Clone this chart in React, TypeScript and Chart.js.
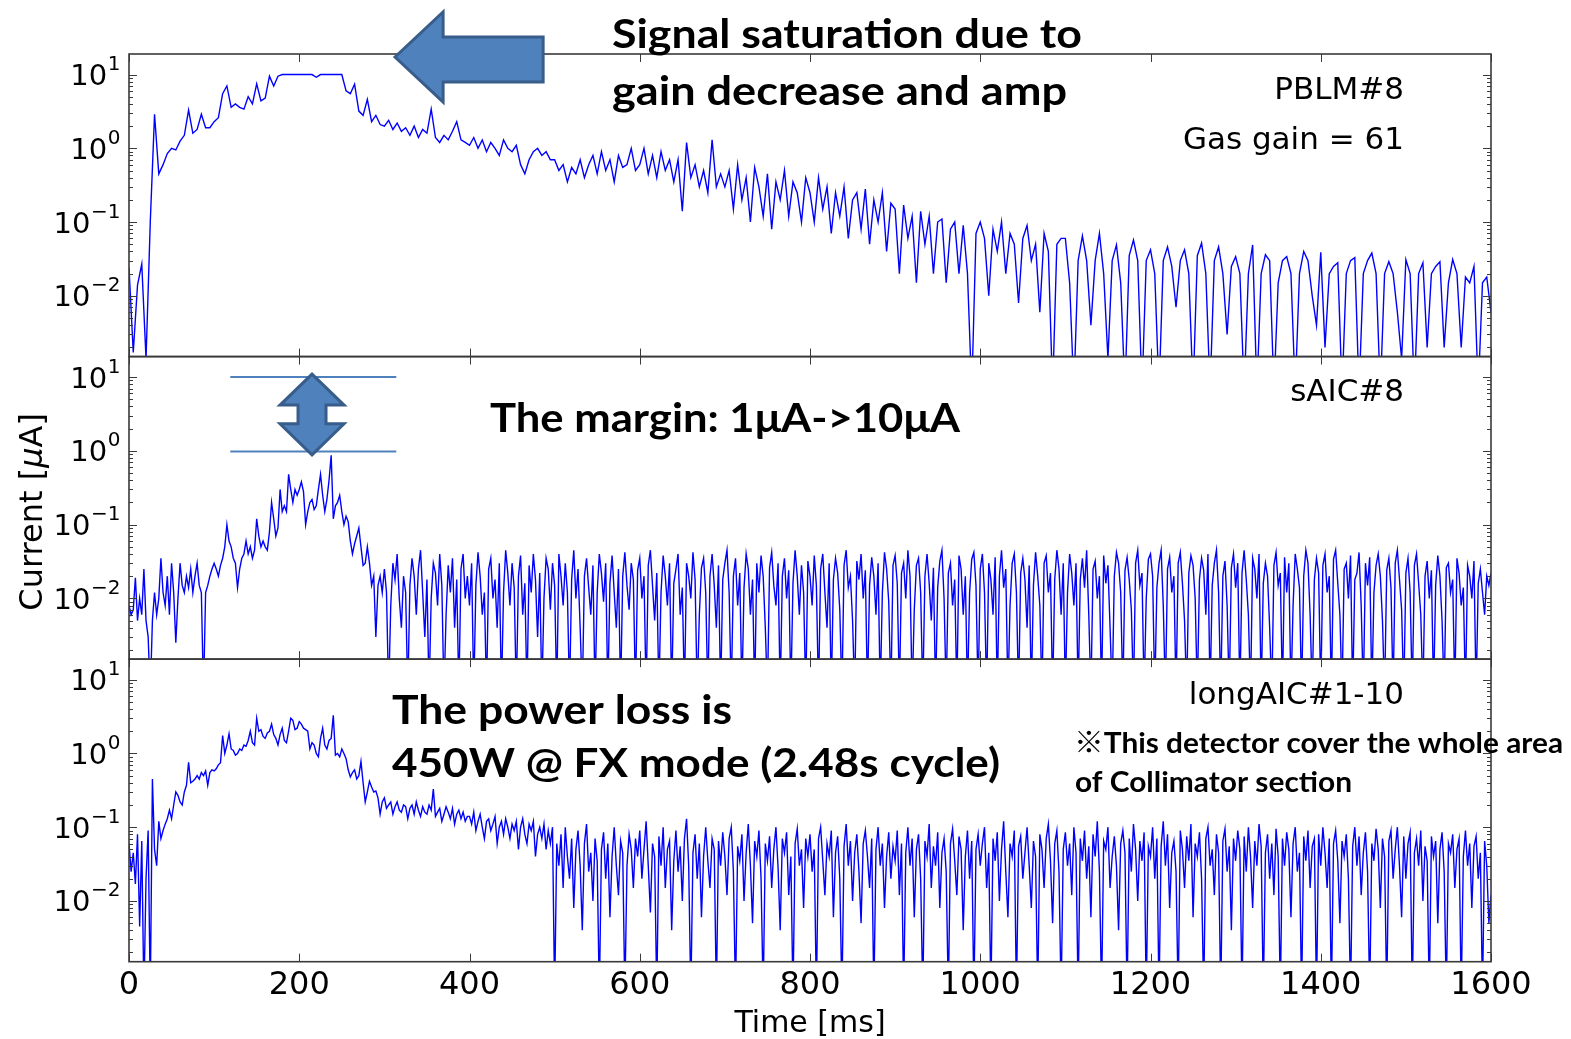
import { useEffect, useRef } from 'react';
import { Chart, registerables } from 'chart.js';

Chart.register(...registerables);

// ---------------- DATA (µA) ----------------
const PBLM_STEP_MS = 5;
const AIC_STEP_MS = 2.5;

// PBLM#8 (gas gain = 61), one value every 5 ms from 0 to 1600 ms
const PBLM8 = [
  0.024, 0.0017, 0.014, 0.027, 0.0014, 0.1, 2.9, 0.45, 0.6, 0.85, 1.0, 0.95, 1.25, 1.5, 3.3, 1.6, 1.8, 2.9, 1.9, 1.9,
  2.3, 2.6, 5.5, 7.0, 3.6, 4.0, 3.6, 3.4, 5.0, 4.0, 7.5, 4.4, 4.8, 9.5, 7.0, 9.5, 10, 10, 10, 10,
  10, 10, 10, 10, 9.2, 10, 10, 10, 10, 10, 10, 6.0, 5.5, 7.4, 3.2, 2.8, 4.6, 2.3, 2.8, 2.1,
  2.0, 2.4, 1.8, 2.2, 1.7, 1.9, 1.5, 2.0, 1.4, 1.8, 1.6, 3.4, 1.4, 1.2, 1.5, 1.3, 1.7, 2.3, 1.3, 1.2,
  1.1, 1.4, 1.0, 1.3, 0.9, 1.2, 1.0, 0.8, 1.3, 1.0, 0.9, 1.1, 0.6, 0.45, 0.7, 0.9, 1.0, 0.8, 0.9, 0.7,
  0.7, 0.5, 0.6, 0.35, 0.55, 0.45, 0.7, 0.4, 0.6, 0.8, 0.45, 0.9, 0.5, 0.7, 0.35, 0.8, 0.55, 0.6, 1.0, 0.5,
  0.6, 1.0, 0.45, 0.8, 0.4, 0.9, 0.5, 0.7, 0.35, 0.7, 0.14, 1.2, 0.4, 0.6, 0.3, 0.5, 0.25, 1.3, 0.3, 0.45,
  0.3, 0.5, 0.15, 0.6, 0.2, 0.4, 0.1, 0.55, 0.3, 0.12, 0.45, 0.08, 0.35, 0.2, 0.5, 0.12, 0.35, 0.25, 0.1, 0.4,
  0.25, 0.1, 0.4, 0.15, 0.3, 0.07, 0.25, 0.12, 0.3, 0.06, 0.2, 0.25, 0.08, 0.28, 0.05, 0.2, 0.1, 0.25, 0.04, 0.18,
  0.15, 0.02, 0.17, 0.06, 0.12, 0.015, 0.14, 0.05, 0.12, 0.02, 0.1, 0.11, 0.015, 0.08, 0.1, 0.02, 0.09, 0.02, 0.0005, 0.07,
  0.1, 0.06, 0.01, 0.08, 0.04, 0.1, 0.02, 0.07, 0.05, 0.008, 0.06, 0.09, 0.03, 0.05, 0.006, 0.07, 0.04, 0.0005, 0.05, 0.06,
  0.06, 0.015, 0.0005, 0.03, 0.065, 0.03, 0.004, 0.03, 0.07, 0.02, 0.0014, 0.03, 0.049, 0.015, 0.0005, 0.035, 0.057, 0.03, 0.0005, 0.03,
  0.042, 0.02, 0.0005, 0.03, 0.046, 0.025, 0.007, 0.03, 0.042, 0.02, 0.0005, 0.035, 0.052, 0.02, 0.0005, 0.03, 0.046, 0.02, 0.003, 0.025,
  0.034, 0.02, 0.0005, 0.02, 0.049, 0.0005, 0.02, 0.036, 0.03, 0.0005, 0.015, 0.03, 0.034, 0.02, 0.0005, 0.02, 0.04, 0.03, 0.01, 0.004,
  0.039, 0.002, 0.02, 0.025, 0.028, 0.0005, 0.02, 0.03, 0.033, 0.0005, 0.02, 0.03, 0.038, 0.02, 0.0005, 0.02, 0.029, 0.02, 0.006, 0.0014,
  0.031, 0.02, 0.0005, 0.02, 0.028, 0.002, 0.02, 0.025, 0.029, 0.002, 0.015, 0.031, 0.02, 0.002, 0.018, 0.015, 0.025, 0.0005, 0.015, 0.018, 0.006,
];

// sAIC#8, one value every 2.5 ms
const SAIC8 = [
  0.008, 0.006, 0.007, 0.019, 0.005, 0.01, 0.006, 0.025, 0.005, 0.003, 0.0005, 0.005, 0.012, 0.006, 0.01, 0.035, 0.012, 0.008, 0.02, 0.006,
  0.03, 0.012, 0.0025, 0.01, 0.03, 0.015, 0.012, 0.02, 0.014, 0.025, 0.012, 0.02, 0.03, 0.015, 0.012, 0.0005, 0.012, 0.015, 0.02, 0.025,
  0.03, 0.025, 0.02, 0.028, 0.035, 0.05, 0.1, 0.06, 0.05, 0.035, 0.03, 0.014, 0.025, 0.035, 0.04, 0.06, 0.04, 0.05, 0.035, 0.045,
  0.12, 0.07, 0.05, 0.06, 0.05, 0.045, 0.08, 0.2, 0.12, 0.07, 0.09, 0.3, 0.15, 0.18, 0.15, 0.48, 0.3, 0.2, 0.3, 0.25,
  0.3, 0.38, 0.28, 0.1, 0.15, 0.2, 0.22, 0.16, 0.18, 0.3, 0.48, 0.25, 0.15, 0.22, 0.4, 0.87, 0.12, 0.18, 0.2, 0.25,
  0.15, 0.1, 0.13, 0.11, 0.06, 0.04, 0.055, 0.07, 0.09, 0.05, 0.028, 0.03, 0.05, 0.03, 0.015, 0.02, 0.003, 0.015, 0.02, 0.012,
  0.025, 0.012, 0.0005, 0.008, 0.03, 0.018, 0.04, 0.01, 0.004, 0.02, 0.012, 0.0005, 0.015, 0.035, 0.02, 0.006, 0.025, 0.045, 0.012, 0.003,
  0.018, 0.0005, 0.01, 0.03, 0.022, 0.008, 0.04, 0.015, 0.0005, 0.006, 0.028, 0.012, 0.035, 0.004, 0.018, 0.0005, 0.025, 0.04, 0.01, 0.02,
  0.008, 0.03, 0.0005, 0.015, 0.042, 0.02, 0.006, 0.012, 0.0005, 0.025, 0.035, 0.01, 0.018, 0.004, 0.03, 0.0005, 0.012, 0.045, 0.022, 0.008,
  0.03, 0.014, 0.0005, 0.02, 0.038, 0.006, 0.016, 0.0005, 0.028, 0.012, 0.04, 0.018, 0.003, 0.022, 0.0005, 0.01, 0.035, 0.025, 0.007, 0.03,
  0.015, 0.0005, 0.04, 0.02, 0.008, 0.03, 0.012, 0.0005, 0.018, 0.045, 0.01, 0.025, 0.004, 0.0005, 0.02, 0.035, 0.014, 0.006, 0.028, 0.0005,
  0.012, 0.04, 0.022, 0.009, 0.03, 0.0005, 0.016, 0.038, 0.012, 0.004, 0.025, 0.0005, 0.02, 0.042, 0.015, 0.007, 0.03, 0.018, 0.0005, 0.024,
  0.035, 0.01, 0.02, 0.0005, 0.028, 0.045, 0.015, 0.005, 0.022, 0.0005, 0.012, 0.038, 0.02, 0.008, 0.03, 0.0005, 0.016, 0.025, 0.04, 0.006,
  0.014, 0.0005, 0.03, 0.02, 0.01, 0.042, 0.018, 0.0005, 0.006, 0.026, 0.035, 0.012, 0.0005, 0.02, 0.04, 0.015, 0.004, 0.028, 0.0005, 0.018,
  0.03, 0.045, 0.012, 0.0005, 0.02, 0.035, 0.008, 0.022, 0.0005, 0.014, 0.04, 0.025, 0.006, 0.018, 0.0005, 0.03, 0.012, 0.038, 0.02, 0.004,
  0.0005, 0.026, 0.042, 0.015, 0.008, 0.03, 0.0005, 0.02, 0.035, 0.01, 0.024, 0.0005, 0.016, 0.045, 0.02, 0.006, 0.028, 0.012, 0.0005, 0.032,
  0.02, 0.008, 0.038, 0.015, 0.0005, 0.025, 0.04, 0.012, 0.004, 0.03, 0.0005, 0.018, 0.035, 0.022, 0.007, 0.0005, 0.028, 0.045, 0.014, 0.02,
  0.005, 0.0005, 0.032, 0.018, 0.04, 0.01, 0.024, 0.0005, 0.015, 0.036, 0.02, 0.006, 0.03, 0.0005, 0.012, 0.042, 0.025, 0.009, 0.0005, 0.028,
  0.038, 0.016, 0.0005, 0.022, 0.03, 0.01, 0.045, 0.02, 0.0005, 0.007, 0.028, 0.035, 0.012, 0.0005, 0.02, 0.04, 0.016, 0.005, 0.026, 0.0005,
  0.014, 0.032, 0.045, 0.01, 0.0005, 0.022, 0.03, 0.008, 0.018, 0.0005, 0.038, 0.025, 0.006, 0.02, 0.0005, 0.012, 0.034, 0.042, 0.015, 0.0005,
  0.025, 0.04, 0.012, 0.0005, 0.03, 0.018, 0.006, 0.036, 0.0005, 0.02, 0.045, 0.014, 0.025, 0.0005, 0.008, 0.03, 0.04, 0.012, 0.0005, 0.022,
  0.035, 0.018, 0.004, 0.028, 0.0005, 0.015, 0.042, 0.02, 0.008, 0.0005, 0.03, 0.038, 0.012, 0.022, 0.0005, 0.018, 0.045, 0.025, 0.006, 0.03,
  0.0005, 0.012, 0.04, 0.022, 0.008, 0.03, 0.0005, 0.018, 0.035, 0.014, 0.045, 0.006, 0.0005, 0.025, 0.032, 0.01, 0.02, 0.0005, 0.038, 0.016,
  0.028, 0.004, 0.0005, 0.02, 0.042, 0.03, 0.012, 0.0005, 0.024, 0.036, 0.018, 0.007, 0.0005, 0.03, 0.045, 0.015, 0.022, 0.0005, 0.01, 0.034,
  0.04, 0.02, 0.0005, 0.014, 0.03, 0.045, 0.008, 0.0005, 0.025, 0.036, 0.012, 0.02, 0.0005, 0.03, 0.042, 0.016, 0.005, 0.0005, 0.022, 0.038,
  0.028, 0.01, 0.0005, 0.018, 0.035, 0.024, 0.006, 0.04, 0.0005, 0.015, 0.03, 0.045, 0.012, 0.0005, 0.02, 0.032, 0.008, 0.0005, 0.026, 0.04,
  0.014, 0.03, 0.0005, 0.022, 0.045, 0.018, 0.006, 0.0005, 0.035, 0.025, 0.01, 0.04, 0.0005, 0.016, 0.03, 0.02, 0.004, 0.0005, 0.028, 0.042,
  0.015, 0.022, 0.0005, 0.036, 0.012, 0.03, 0.0005, 0.008, 0.04, 0.025, 0.014, 0.0005, 0.02, 0.045, 0.03, 0.006, 0.0005, 0.018, 0.035, 0.022,
  0.0005, 0.028, 0.04, 0.012, 0.02, 0.0005, 0.034, 0.045, 0.016, 0.006, 0.0005, 0.025, 0.03, 0.01, 0.038, 0.0005, 0.018, 0.022, 0.042, 0.008,
  0.0005, 0.03, 0.015, 0.036, 0.0005, 0.012, 0.028, 0.04, 0.02, 0.005, 0.0005, 0.024, 0.035, 0.014, 0.0005, 0.03, 0.045, 0.018, 0.007, 0.0005,
  0.022, 0.035, 0.012, 0.0005, 0.028, 0.04, 0.016, 0.006, 0.0005, 0.02, 0.032, 0.01, 0.024, 0.0005, 0.015, 0.038, 0.02, 0.005, 0.0005, 0.026,
  0.03, 0.012, 0.018, 0.0005, 0.035, 0.022, 0.008, 0.014, 0.0005, 0.028, 0.02, 0.01, 0.032, 0.0005, 0.016, 0.025, 0.012, 0.006, 0.02, 0.015, 0.022,
];

// longAIC#1-10, one value every 2.5 ms
const LONGAIC = [
  0.06, 0.025, 0.045, 0.017, 0.08, 0.0045, 0.065, 0.0005, 0.02, 0.09, 0.0005, 0.45, 0.05, 0.03, 0.12, 0.07, 0.09, 0.11, 0.13, 0.17,
  0.13, 0.2, 0.3, 0.27, 0.22, 0.2, 0.3, 0.37, 0.76, 0.4, 0.42, 0.45, 0.5, 0.45, 0.55, 0.5, 0.58, 0.37, 0.55, 0.6,
  0.58, 0.62, 0.7, 0.75, 1.75, 1.0, 1.3, 1.85, 1.15, 1.1, 0.95, 1.0, 1.15, 1.1, 1.3, 1.25, 1.5, 2.0, 1.4, 1.3,
  3.0, 2.0, 2.1, 1.7, 1.6, 1.9, 2.0, 2.5, 1.8, 1.6, 1.3, 1.8, 2.2, 1.5, 1.4, 2.0, 3.0, 2.8, 2.1, 2.2,
  2.7, 2.5, 2.2, 2.1, 2.0, 1.15, 1.4, 1.3, 1.0, 0.9, 1.6, 2.2, 1.3, 1.15, 1.5, 1.6, 3.3, 0.95, 1.0, 0.9,
  1.15, 1.0, 0.85, 0.6, 0.48, 0.55, 0.6, 0.45, 0.5, 0.78, 0.4, 0.22, 0.3, 0.42, 0.35, 0.3, 0.31, 0.25, 0.15, 0.22,
  0.25, 0.18, 0.2, 0.22, 0.15, 0.19, 0.22, 0.17, 0.16, 0.2, 0.19, 0.13, 0.18, 0.2, 0.15, 0.22, 0.17, 0.14, 0.19, 0.16,
  0.15, 0.2, 0.17, 0.33, 0.14, 0.16, 0.18, 0.12, 0.15, 0.19, 0.16, 0.13, 0.18, 0.11, 0.15, 0.17, 0.13, 0.16, 0.12, 0.14,
  0.14, 0.11, 0.16, 0.09, 0.12, 0.15, 0.1, 0.07, 0.12, 0.13, 0.09, 0.11, 0.14, 0.06, 0.1, 0.12, 0.08, 0.13, 0.1, 0.07,
  0.11, 0.09, 0.12, 0.05, 0.1, 0.13, 0.08, 0.06, 0.11, 0.09, 0.12, 0.04, 0.08, 0.1, 0.07, 0.11, 0.05, 0.09, 0.06, 0.1,
  0.0005, 0.06, 0.03, 0.08, 0.015, 0.1, 0.04, 0.02, 0.07, 0.008, 0.05, 0.09, 0.03, 0.004, 0.06, 0.11, 0.025, 0.045, 0.01, 0.07,
  0.035, 0.0005, 0.05, 0.085, 0.02, 0.06, 0.006, 0.04, 0.1, 0.03, 0.012, 0.065, 0.045, 0.0005, 0.03, 0.08, 0.05, 0.015, 0.07, 0.04,
  0.09, 0.02, 0.05, 0.12, 0.03, 0.007, 0.06, 0.04, 0.0005, 0.075, 0.03, 0.1, 0.015, 0.05, 0.065, 0.004, 0.035, 0.09, 0.025, 0.055,
  0.01, 0.07, 0.13, 0.03, 0.0005, 0.045, 0.08, 0.02, 0.06, 0.006, 0.04, 0.1, 0.035, 0.015, 0.07, 0.05, 0.0005, 0.065, 0.03, 0.085,
  0.04, 0.012, 0.07, 0.1, 0.025, 0.0005, 0.055, 0.035, 0.08, 0.01, 0.045, 0.11, 0.03, 0.005, 0.065, 0.04, 0.09, 0.02, 0.0005, 0.06,
  0.035, 0.075, 0.015, 0.05, 0.1, 0.028, 0.004, 0.07, 0.045, 0.085, 0.012, 0.04, 0.0005, 0.06, 0.095, 0.03, 0.05, 0.008, 0.07, 0.04,
  0.08, 0.025, 0.05, 0.0005, 0.07, 0.1, 0.035, 0.012, 0.06, 0.04, 0.09, 0.006, 0.045, 0.075, 0.02, 0.0005, 0.055, 0.11, 0.03, 0.065,
  0.01, 0.045, 0.08, 0.025, 0.005, 0.06, 0.09, 0.04, 0.015, 0.07, 0.0005, 0.05, 0.1, 0.03, 0.06, 0.008, 0.04, 0.085, 0.02, 0.055,
  0.035, 0.09, 0.012, 0.06, 0.0005, 0.045, 0.1, 0.03, 0.07, 0.006, 0.05, 0.08, 0.02, 0.0005, 0.065, 0.04, 0.11, 0.015, 0.055, 0.03,
  0.085, 0.008, 0.045, 0.07, 0.025, 0.0005, 0.06, 0.095, 0.035, 0.012, 0.075, 0.05, 0.004, 0.04, 0.09, 0.02, 0.065, 0.0005, 0.05, 0.08,
  0.03, 0.06, 0.1, 0.015, 0.045, 0.0005, 0.07, 0.035, 0.085, 0.01, 0.05, 0.12, 0.025, 0.006, 0.06, 0.04, 0.09, 0.0005, 0.055, 0.075,
  0.02, 0.045, 0.1, 0.03, 0.008, 0.065, 0.04, 0.0005, 0.08, 0.05, 0.015, 0.07, 0.11, 0.035, 0.005, 0.06, 0.09, 0.025, 0.0005, 0.05,
  0.085, 0.03, 0.06, 0.012, 0.1, 0.045, 0.0005, 0.07, 0.035, 0.09, 0.02, 0.055, 0.006, 0.08, 0.04, 0.12, 0.025, 0.0005, 0.065, 0.05,
  0.1, 0.015, 0.04, 0.075, 0.03, 0.004, 0.06, 0.09, 0.045, 0.0005, 0.07, 0.025, 0.11, 0.05, 0.01, 0.065, 0.035, 0.085, 0.0005, 0.055,
  0.04, 0.1, 0.02, 0.07, 0.0005, 0.055, 0.12, 0.03, 0.08, 0.008, 0.045, 0.065, 0.025, 0.0005, 0.09, 0.05, 0.015, 0.075, 0.035, 0.11,
  0.006, 0.06, 0.04, 0.085, 0.02, 0.0005, 0.07, 0.1, 0.03, 0.05, 0.012, 0.08, 0.045, 0.0005, 0.065, 0.095, 0.025, 0.055, 0.004, 0.07,
  0.035, 0.09, 0.05, 0.0005, 0.075, 0.025, 0.1, 0.04, 0.008, 0.065, 0.03, 0.11, 0.055, 0.0005, 0.045, 0.08, 0.02, 0.06, 0.012, 0.095,
  0.04, 0.0005, 0.07, 0.03, 0.085, 0.05, 0.006, 0.06, 0.1, 0.025, 0.045, 0.0005, 0.075, 0.035, 0.09, 0.015, 0.055, 0.07, 0.0005, 0.08,
  0.03, 0.1, 0.045, 0.015, 0.07, 0.0005, 0.06, 0.09, 0.035, 0.005, 0.065, 0.04, 0.08, 0.02, 0.0005, 0.055, 0.1, 0.03, 0.075, 0.012,
  0.045, 0.085, 0.025, 0.0005, 0.06, 0.035, 0.095, 0.05, 0.008, 0.07, 0.04, 0.0005, 0.065, 0.09, 0.02, 0.05, 0.1, 0.03, 0.006, 0.075,
  0.02, 0.06, 0.085, 0.0005, 0.045, 0.07, 0.03, 0.09, 0.01, 0.055, 0.035, 0.0005, 0.075, 0.04, 0.065, 0.005, 0.05, 0.085, 0.025, 0.0005,
  0.06, 0.045, 0.08, 0.015, 0.05, 0.07, 0.0005, 0.04, 0.09, 0.03, 0.06, 0.008, 0.055, 0.075, 0.02, 0.045, 0.0005, 0.065, 0.03, 0.005, 0.012,
];

// sampling grids of the x axis (ms)
const PBLM_TIME_MS = PBLM8.map((_, i) => i * PBLM_STEP_MS);
const AIC_TIME_MS = SAIC8.map((_, i) => i * AIC_STEP_MS);

const X_TICKS = [0, 200, 400, 600, 800, 1000, 1200, 1400, 1600];
const X_TICK_LABELS = ['0', '200', '400', '600', '800', '1000', '1200', '1400', '1600'];
const Y_TICKS = [10, 1, 0.1, 0.01];
const Y_TICK_EXPONENTS = ['1', '0', '\u22121', '\u22122'];
const PANEL_LABELS = [['PBLM#8', 'Gas gain = 61'], ['sAIC#8'], ['longAIC#1-10']];
const X_TITLE = 'Time [ms]';
const Y_MIN = 0.0015;
const Y_MAX = 19;

// ---------------- STYLE / LAYOUT ----------------
const W = 1571;
const H = 1039;
const AXIS_COLOR = '#3a3a3a';
const LINE_COLOR = '#0000ff';
const ARROW_FILL = '#4f81bd';
const ARROW_EDGE = '#385d8a';
const TICK_FONT = '"DejaVu Sans"';
const NOTE_FONT = 'Lato, "Noto Sans CJK JP", sans-serif';
const PANEL_IDS = ['yTop', 'yMid', 'yBot'];

function fitText(ctx: CanvasRenderingContext2D, text: string, x: number, base: number, width: number, size: number) {
  ctx.save();
  ctx.font = `bold ${size}px ${NOTE_FONT}`;
  ctx.textAlign = 'left';
  ctx.textBaseline = 'alphabetic';
  const w = ctx.measureText(text).width;
  ctx.translate(x, base);
  ctx.scale(width / w, 1);
  ctx.fillStyle = '#000';
  ctx.fillText(text, 0, 0);
  ctx.restore();
}

function polygon(ctx: CanvasRenderingContext2D, pts: number[][]) {
  ctx.beginPath();
  pts.forEach(([x, y], i) => (i ? ctx.lineTo(x, y) : ctx.moveTo(x, y)));
  ctx.closePath();
  ctx.fillStyle = ARROW_FILL;
  ctx.fill();
  ctx.strokeStyle = ARROW_EDGE;
  ctx.lineWidth = 3;
  ctx.lineJoin = 'miter';
  ctx.stroke();
}

const overlayPlugin = {
  id: 'overlay',
  beforeDatasetDraw(chart: any, args: any) {
    const ds = chart.data.datasets[args.index];
    const ys = chart.scales[ds.yAxisID];
    const { left, right } = chart.chartArea;
    const ctx = chart.ctx;
    ctx.save();
    ctx.beginPath();
    ctx.rect(left, ys.top, right - left, ys.bottom - ys.top);
    ctx.clip();
  },
  afterDatasetDraw(chart: any) {
    chart.ctx.restore();
  },
  afterDraw(chart: any) {
    const ctx: CanvasRenderingContext2D = chart.ctx;
    const xs = chart.scales.x;
    const panels = PANEL_IDS.map((id) => chart.scales[id]);
    const L = chart.chartArea.left;
    const R = chart.chartArea.right;
    ctx.save();

    panels.forEach((ys: any) => {
      const T = ys.top;
      const B = ys.bottom;
      ctx.strokeStyle = AXIS_COLOR;
      ctx.lineWidth = 1;
      ctx.beginPath();
      X_TICKS.forEach((v) => {
        const px = Math.round(xs.getPixelForValue(v)) + 0.5;
        ctx.moveTo(px, B);
        ctx.lineTo(px, B - 8);
        ctx.moveTo(px, T);
        ctx.lineTo(px, T + 8);
      });
      for (let k = -4; k <= 2; k++) {
        for (let m = 1; m <= 9; m++) {
          const v = m * Math.pow(10, k);
          if (v < Y_MIN || v > Y_MAX) continue;
          const py = Math.round(ys.getPixelForValue(v)) + 0.5;
          const len = m === 1 ? 8 : 4;
          ctx.moveTo(L, py);
          ctx.lineTo(L + len, py);
          ctx.moveTo(R, py);
          ctx.lineTo(R - len, py);
        }
      }
      ctx.stroke();
      ctx.lineWidth = 1.6;
      ctx.strokeRect(L, T, R - L, B - T);

      ctx.fillStyle = '#000';
      ctx.textAlign = 'left';
      ctx.textBaseline = 'alphabetic';
      Y_TICKS.forEach((v, i) => {
        const py = ys.getPixelForValue(v);
        const exp = Y_TICK_EXPONENTS[i];
        ctx.font = `20px ${TICK_FONT}`;
        const ew = ctx.measureText(exp).width;
        ctx.font = `29px ${TICK_FONT}`;
        const bw = ctx.measureText('10').width;
        const x0 = L - 9 - ew - bw;
        ctx.fillText('10', x0, py + 10.5);
        ctx.font = `20px ${TICK_FONT}`;
        ctx.fillText(exp, x0 + bw + 0.5, py - 4.5);
      });
    });

    ctx.fillStyle = '#000';
    ctx.textAlign = 'right';
    ctx.font = `31px ${TICK_FONT}`;
    panels.forEach((ys: any, i: number) => {
      PANEL_LABELS[i].forEach((t, j) => ctx.fillText(t, R - 87, ys.top + 44.5 + j * 50));
    });

    const bottom = panels[2].bottom;
    ctx.textAlign = 'center';
    ctx.font = `32px ${TICK_FONT}`;
    X_TICKS.forEach((v, i) => ctx.fillText(X_TICK_LABELS[i], xs.getPixelForValue(v), bottom + 32.5));
    ctx.font = `30px ${TICK_FONT}`;
    ctx.fillText(X_TITLE, (L + R) / 2, bottom + 70);

    ctx.save();
    ctx.translate(42, (panels[0].top + panels[2].bottom) / 2 + 4);
    ctx.rotate(-Math.PI / 2);
    const parts: [string, string][] = [
      ['Current [', `32px ${TICK_FONT}`],
      ['\u03bc', `italic 32px ${TICK_FONT}`],
      ['A]', `32px ${TICK_FONT}`],
    ];
    let total = 0;
    parts.forEach(([t, f]) => { ctx.font = f; total += ctx.measureText(t).width; });
    let cx = -total / 2;
    ctx.textAlign = 'left';
    parts.forEach(([t, f]) => { ctx.font = f; ctx.fillText(t, cx, 0); cx += ctx.measureText(t).width; });
    ctx.restore();

    // ---- annotations ----
    const top = panels[0].top;
    const tipX = xs.getPixelForValue(312.5);
    const headX = xs.getPixelForValue(369);
    const tailX = xs.getPixelForValue(486.5);
    polygon(ctx, [
      [tipX, top + 3], [headX, top - 42], [headX, top - 17], [tailX, top - 17],
      [tailX, top + 28], [headX, top + 28], [headX, top + 48],
    ]);

    const mid = panels[1];
    const y10 = mid.getPixelForValue(10);
    const y1 = mid.getPixelForValue(1);
    ctx.strokeStyle = ARROW_FILL;
    ctx.lineWidth = 2;
    ctx.beginPath();
    const lx0 = xs.getPixelForValue(119);
    const lx1 = xs.getPixelForValue(314);
    ctx.moveTo(lx0, y10); ctx.lineTo(lx1, y10);
    ctx.moveTo(lx0, y1 + 0.7); ctx.lineTo(lx1, y1 + 0.7);
    ctx.stroke();
    const ax = xs.getPixelForValue(215);
    const tT = y10 - 3;
    const tB = y1 + 4;
    const hh = 31, hw = 32, sw = 14;
    polygon(ctx, [
      [ax, tT], [ax + hw, tT + hh], [ax + sw, tT + hh], [ax + sw, tB - hh], [ax + hw, tB - hh],
      [ax, tB], [ax - hw, tB - hh], [ax - sw, tB - hh], [ax - sw, tT + hh], [ax - hw, tT + hh],
    ]);

    fitText(ctx, 'Signal saturation due to', 612, 48, 470, 40);
    fitText(ctx, 'gain decrease and amp', 612, 105, 455, 40);
    fitText(ctx, 'The margin: 1\u03bcA->10\u03bcA', 490, 432, 470, 40);
    fitText(ctx, 'The power loss is', 392, 723.5, 340, 40);
    fitText(ctx, '450W @ FX mode (2.48s cycle)', 392, 777, 608, 40);
    fitText(ctx, '\u203bThis detector cover the whole area', 1074, 753, 489, 29);
    fitText(ctx, 'of Collimator section', 1075, 792, 277, 29);

    ctx.restore();
  },
};

function series(times: number[], values: number[], axis: string, label: string) {
  return {
    label,
    data: times.map((t, i) => ({ x: t, y: values[i] })),
    yAxisID: axis,
    borderColor: LINE_COLOR,
    borderWidth: 1.4,
    pointRadius: 0,
    tension: 0,
    fill: false,
  };
}

function yScale(weight: number) {
  return {
    type: 'logarithmic',
    min: Y_MIN,
    max: Y_MAX,
    position: 'left',
    stack: 'panels',
    stackWeight: 1,
    weight,
    grid: { display: false },
    border: { display: false },
    ticks: { display: false },
    afterFit: (s: any) => { s.width = 129; },
  };
}

export default function App() {
  const ref = useRef<HTMLCanvasElement>(null);
  useEffect(() => {
    document.body.style.margin = '0';
    const chart = new Chart(ref.current as HTMLCanvasElement, {
      type: 'line',
      data: {
        datasets: [
          series(PBLM_TIME_MS, PBLM8, 'yTop', 'PBLM#8'),
          series(AIC_TIME_MS, SAIC8, 'yMid', 'sAIC#8'),
          series(AIC_TIME_MS, LONGAIC, 'yBot', 'longAIC#1-10'),
        ],
      },
      options: {
        animation: false,
        responsive: false,
        devicePixelRatio: 1,
        layout: { padding: { top: 54, right: 80, left: 0, bottom: 0 } },
        plugins: { legend: { display: false }, tooltip: { enabled: false } },
        scales: {
          x: {
            type: 'linear',
            min: 0,
            max: 1600,
            position: 'bottom',
            grid: { display: false },
            border: { display: false },
            ticks: { display: false },
            afterFit: (s: any) => { s.height = 77.3; },
          },
          yTop: yScale(3),
          yMid: yScale(2),
          yBot: yScale(1),
        },
      } as any,
      plugins: [overlayPlugin],
    } as any);
    return () => chart.destroy();
  }, []);
  return (
    <div style={{ width: W, height: H, background: '#fff', overflow: 'hidden' }}>
      <canvas ref={ref} width={W} height={H} style={{ display: 'block', width: W, height: H }} />
    </div>
  );
}
